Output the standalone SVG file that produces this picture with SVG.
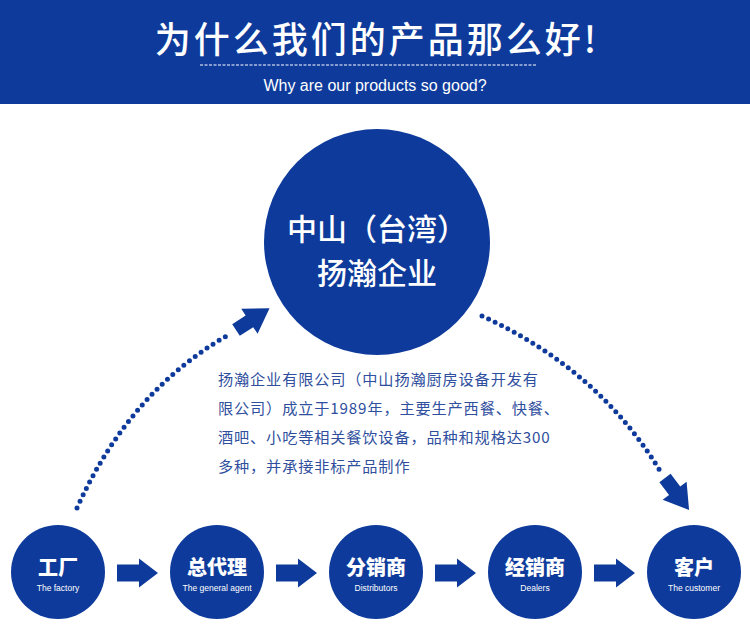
<svg xmlns="http://www.w3.org/2000/svg" width="750" height="643" viewBox="0 0 750 643">
<style>
.b{fill:#0e3b9b}
.zh{font-family:"Noto Sans CJK SC","Noto Sans",sans-serif;fill:#fff;font-weight:900;text-anchor:middle}
.en{font-family:"Liberation Sans",Arial,sans-serif;fill:#fff;font-size:8.5px;text-anchor:middle}
.dot{fill:none;stroke:#0e3b9b;stroke-width:5;stroke-linecap:round;stroke-dasharray:0 7.2}
.p{font-family:"Noto Sans CJK SC","Noto Sans",sans-serif;fill:#2f4f9e;font-size:15.2px;letter-spacing:0.85px}
</style>
<defs>
<path id="ba" d="M0,-8.5 H22 V-14.5 L41,0 L22,14.5 V8.5 H0 Z" class="b"/>
<path id="da" d="M0,-7 H16 V-15 L40,0 L16,15 V7 H0 Z" class="b"/>
</defs>
<rect width="750" height="643" fill="#fff"/>
<g id="header">
<rect width="750" height="104" class="b"/>
<text x="377" y="53" style="font-family:'Noto Sans CJK SC',sans-serif;font-weight:500;fill:#fff;text-anchor:middle" font-size="36" letter-spacing="3">为什么我们的产品那么好!</text>
<line x1="200" y1="65" x2="537" y2="65" stroke="#fff" stroke-width="1" stroke-dasharray="3 1.5"/>
<text x="375" y="91" font-family="'Liberation Sans',Arial,sans-serif" font-size="16" fill="#fff" text-anchor="middle">Why are our products so good?</text>
</g>
<g id="main">
<circle cx="377" cy="242" r="113" class="b"/>
<text x="377" y="240" style="font-family:'Noto Sans CJK SC',sans-serif;font-weight:500;fill:#fff;text-anchor:middle" font-size="30">中山（台湾）</text>
<text x="377" y="284" style="font-family:'Noto Sans CJK SC',sans-serif;font-weight:500;fill:#fff;text-anchor:middle" font-size="30">扬瀚企业</text>
</g>
<g id="desc">
<text class="p" x="218" y="385">扬瀚企业有限公司（中山扬瀚厨房设备开发有</text>
<text class="p" x="218" y="414">限公司）成立于1989年，主要生产西餐、快餐、</text>
<text class="p" x="218" y="443">酒吧、小吃等相关餐饮设备，品种和规格达300</text>
<text class="p" x="218" y="472">多种，并承接非标产品制作</text>
</g>
<g id="connectors">
<path class="dot" d="M77,508 Q130,390 230,334"/>
<use href="#da" transform="translate(236,330) rotate(-33)"/>
<path class="dot" d="M482,316 Q600,370 662,474"/>
<use href="#da" transform="translate(665,478) rotate(53)"/>
<use href="#ba" x="117" y="573"/>
<use href="#ba" x="276" y="573"/>
<use href="#ba" x="435" y="573"/>
<use href="#ba" x="594" y="573"/>
</g>
<g id="n1"><circle cx="58" cy="572" r="47" class="b"/><text x="58" y="575" class="zh" font-size="20">工厂</text><text x="58" y="591" class="en">The factory</text></g>
<g id="n2"><circle cx="217" cy="572" r="47" class="b"/><text x="217" y="575" class="zh" font-size="20">总代理</text><text x="217" y="591" class="en">The general agent</text></g>
<g id="n3"><circle cx="376" cy="572" r="47" class="b"/><text x="376" y="575" class="zh" font-size="20">分销商</text><text x="376" y="591" class="en">Distributors</text></g>
<g id="n4"><circle cx="535" cy="572" r="47" class="b"/><text x="535" y="575" class="zh" font-size="20">经销商</text><text x="535" y="591" class="en">Dealers</text></g>
<g id="n5"><circle cx="694" cy="572" r="47" class="b"/><text x="694" y="575" class="zh" font-size="20">客户</text><text x="694" y="591" class="en">The customer</text></g>
</svg>
